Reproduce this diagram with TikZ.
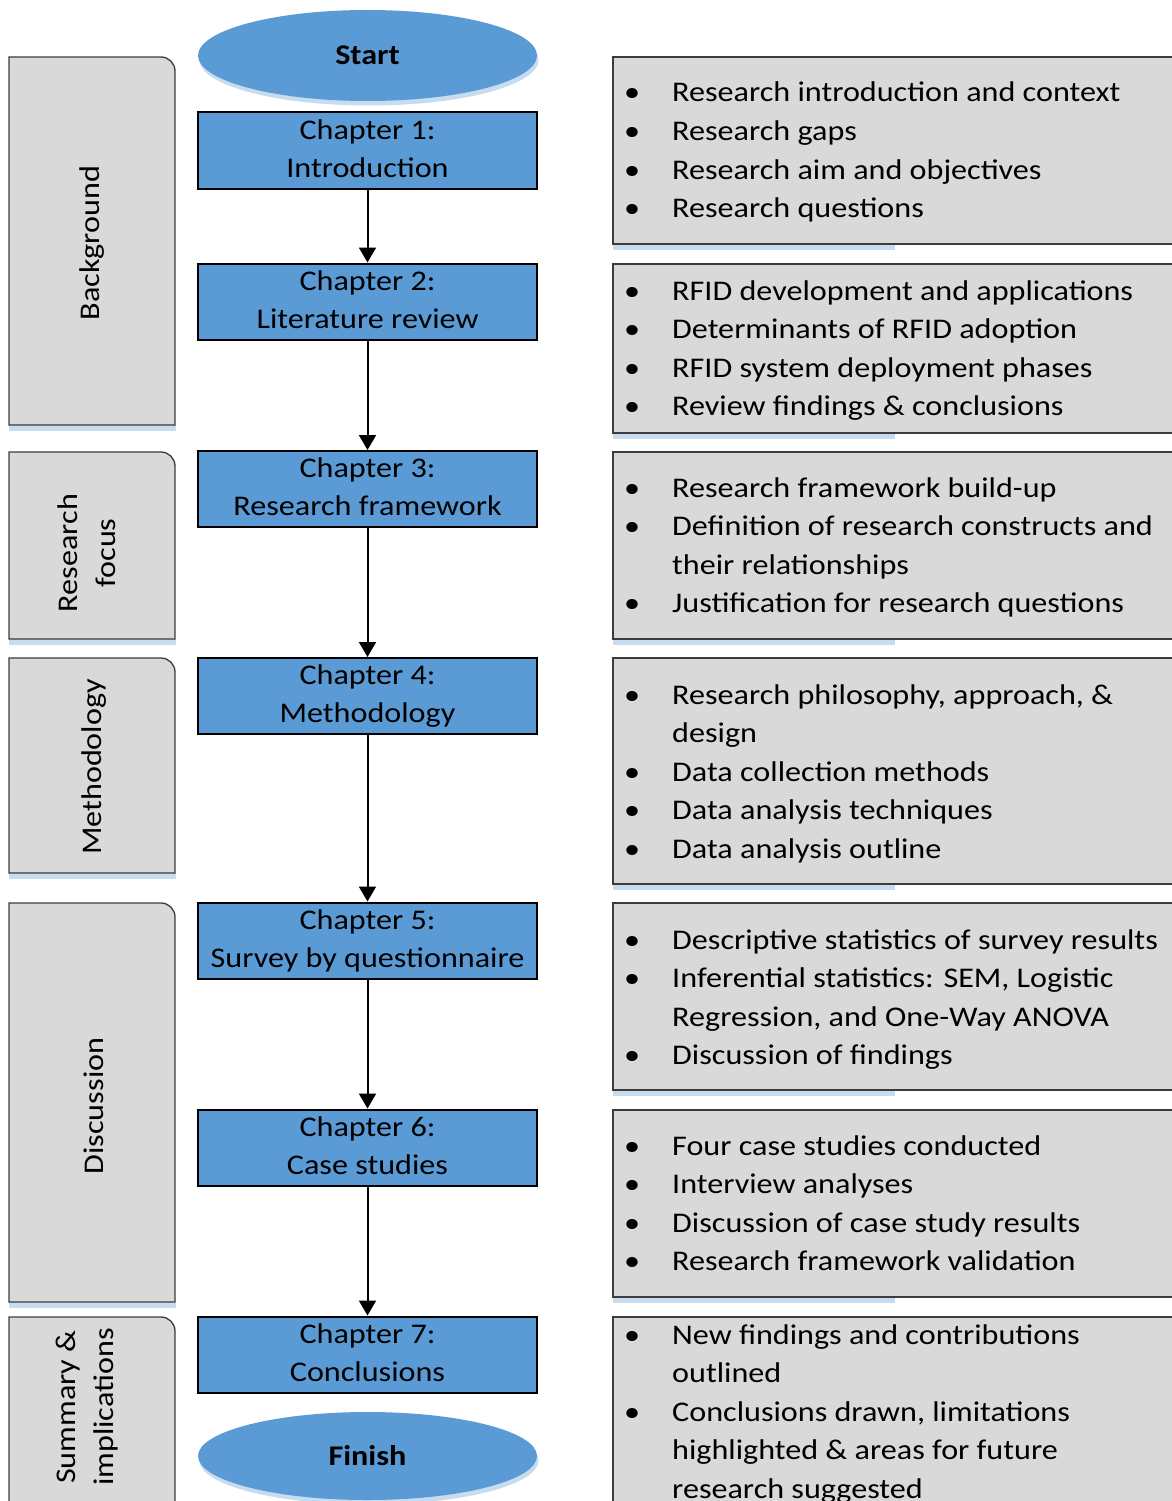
\documentclass[tikz,border=0pt]{standalone}
\usepackage{fontspec}
\setmainfont{Carlito}[FakeStretch=1.128]
\usetikzlibrary{arrows.meta,shapes.geometric,shadows}

\definecolor{chapblue}{HTML}{5B9BD5}
\definecolor{panelgray}{HTML}{D9D9D9}
\definecolor{edgegray}{HTML}{3C3C3C}
\definecolor{shadeblue}{HTML}{C8DCEF}

\newcommand\bodyfont{\fontsize{28.5}{38.5}\selectfont}
\newcommand\bl{\makebox[48pt][l]{\textbullet}}
\newcommand\cl{\hspace*{48pt}}

% one node per printed line of a bullet panel
\newcommand\panellines[3]{%
  \foreach \txt [count=\n] in {#3}
    \node[itemline] (#1-\n) at (624,{#2+38.5*(\n-1)}) {\txt};%
}

% left stage panel: only the top right corner is rounded
\newcommand\stagepanel[2]{%
  \fill[shadeblue] (9,#2) rectangle (176,#2+6);
  \draw[sidepanel] (9,#2) -- (9,#1) [rounded corners=14pt] -- (175,#1)
    [sharp corners] -- (175,#2) -- cycle;%
}

% right summary panel, running off the right edge
\newcommand\notepanel[2]{%
  \fill[shadeblue] (613,#2) rectangle (895,#2+6);
  \draw[sidepanel] (613,#1) rectangle (1190,#2);%
}

\begin{document}
\begin{tikzpicture}[x=1pt,y=-1pt,
  chapbox/.style={draw=black, line width=2pt, fill=chapblue, rectangle,
    minimum width=339pt, minimum height=75pt, inner sep=0pt,
    align=center, font=\fontsize{28.5}{38}\selectfont},
  terminal/.style={ellipse, fill=chapblue, minimum width=339pt, inner sep=0pt,
    font=\fontsize{28.5}{34}\selectfont\bfseries,
    drop shadow={shadow xshift=1.5pt, shadow yshift=-4.5pt, fill=shadeblue, opacity=1}},
  sidepanel/.style={draw=edgegray, line width=1.3pt, fill=panelgray},
  stagelabel/.style={rotate=90, align=center, inner sep=0pt,
    font=\fontsize{28.5}{38}\selectfont},
  itemline/.style={anchor=base west, inner sep=0pt, font=\bodyfont},
  flow/.style={draw=black, line width=2pt, -{Triangle[width=17pt,length=15pt]}}
]
\useasboundingbox (0,0) rectangle (1171,1501);
\fill[white] (0,0) rectangle (1171,1501);

% stage panels on the left
\stagepanel{57}{425}
\stagepanel{452}{639}
\stagepanel{658}{873}
\stagepanel{903}{1302}
\stagepanel{1317}{1530}

\node[stagelabel] (bg)  at (92,243)   {Background};
\node[stagelabel] (rf)  at (87,553)   {Research\\focus};
\node[stagelabel] (me)  at (94,767)   {Methodology};
\node[stagelabel] (di)  at (94,1106)  {Discussion};
\node[stagelabel] (si)  at (87,1407)  {Summary \&\\implications};

% summary panels on the right
\notepanel{57}{244}
\notepanel{264}{433}
\notepanel{452}{639}
\notepanel{658}{884}
\notepanel{903}{1090}
\notepanel{1110}{1297}
\notepanel{1317}{1530}

\panellines{n1}{102}{{\bl Research introduction and context},{\bl Research gaps},
  {\bl Research aim and objectives},{\bl Research questions}}
\panellines{n2}{300}{{\bl RFID development and applications},{\bl Determinants of RFID adoption},
  {\bl RFID system deployment phases},{\bl Review findings \& conclusions}}
\panellines{n3}{497}{{\bl Research framework build-up},{\bl Definition of research constructs and},
  {\cl their relationships},{\bl Justification for research questions}}
\panellines{n4}{704}{{\bl Research philosophy, approach, \&},{\cl design},
  {\bl Data collection methods},{\bl Data analysis techniques},{\bl Data analysis outline}}
\panellines{n5}{949}{{\bl Descriptive statistics of survey results},{\bl Inferential statistics: SEM, Logistic},
  {\cl Regression, and One-Way ANOVA},{\bl Discussion of findings}}
\panellines{n6}{1155}{{\bl Four case studies conducted},{\bl Interview analyses},
  {\bl Discussion of case study results},{\bl Research framework validation}}
\panellines{n7}{1344}{{\bl New findings and contributions},{\cl outlined},
  {\bl Conclusions drawn, limitations},{\cl highlighted \& areas for future},
  {\cl research suggested}}

% main flow
\node[terminal, minimum height=91pt] (start) at (367.5,55.5) {Start};
\node[chapbox] (c1) at (367.5,150.5)  {\strut Chapter 1:\\\strut Introduction};
\node[chapbox] (c2) at (367.5,301.5)  {\strut Chapter 2:\\\strut Literature review};
\node[chapbox] (c3) at (367.5,489)    {\strut Chapter 3:\\\strut Research framework};
\node[chapbox] (c4) at (367.5,696)    {\strut Chapter 4:\\\strut Methodology};
\node[chapbox] (c5) at (367.5,940.5)  {\strut Chapter 5:\\\strut Survey by questionnaire};
\node[chapbox] (c6) at (367.5,1147.5) {\strut Chapter 6:\\\strut Case studies};
\node[chapbox] (c7) at (367.5,1354.5) {\strut Chapter 7:\\\strut Conclusions};
\node[terminal, minimum height=88pt] (finish) at (367.5,1456) {Finish};

\draw[flow] (c1.south) -- (c2.north);
\draw[flow] (c2.south) -- (c3.north);
\draw[flow] (c3.south) -- (c4.north);
\draw[flow] (c4.south) -- (c5.north);
\draw[flow] (c5.south) -- (c6.north);
\draw[flow] (c6.south) -- (c7.north);
\end{tikzpicture}
\end{document}
